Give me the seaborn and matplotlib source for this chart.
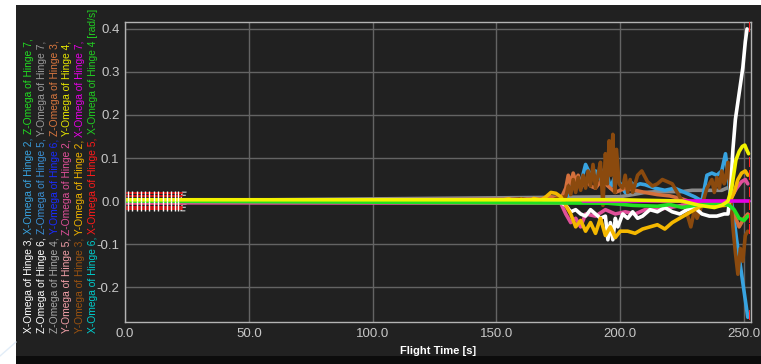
import matplotlib
matplotlib.use("Agg")
import matplotlib.pyplot as plt
import seaborn as sns
from matplotlib.patches import Rectangle
from matplotlib.lines import Line2D

# --- dados (tempo em s, omega em rad/s) ---
t_brown = [0, 150, 160, 170, 175, 178, 179, 180, 181, 182, 183, 184, 185, 186, 187, 188, 189, 190, 191,
           192, 193, 194, 194.8, 195.5, 196.2, 197, 197.8, 198.5, 199.5, 201, 202, 203, 204, 205, 207,
           208.7, 211, 213, 215, 217, 219, 221, 223, 225, 227, 228.5, 230, 231, 233, 235, 237, 238, 239,
           240, 241, 242, 242.5, 243.5, 244.5, 245.5, 246.5, 247.5, 248.5, 249.5, 250.5, 251.5]
v_brown = [0, 0, 0.005, -0.005, 0.008, 0.01, 0.035, 0.015, 0.05, 0.02, 0.055, 0.025, 0.06, 0.03, 0.07,
           0.035, 0.085, 0.03, 0.06, 0.09, -0.01, 0.11, 0.04, 0.14, 0.06, 0.155, 0.02, 0.12, 0.04, 0.03,
           0.06, 0.02, 0.05, 0.02, 0.06, 0.07, 0.045, 0.035, 0.04, 0.05, 0.045, 0.04, 0.02, 0.0, -0.03,
           -0.06, -0.02, -0.04, -0.01, 0.03, 0.05, 0.02, 0.055, 0.03, 0.07, 0.04, 0.05, 0.09, 0.02, -0.06,
           -0.12, -0.17, -0.11, -0.14, -0.08, -0.07]

t_lblue = [0, 178, 180, 182, 184, 186, 188, 190, 192, 194, 196, 198, 200, 202, 204, 206, 208, 210, 214,
           218, 222, 226, 230, 233, 235, 237, 239, 241, 242.5, 243.5, 244.5, 245.5, 247, 248.5, 250, 251.5]
v_lblue = [0, 0.005, 0.03, 0.05, 0.04, 0.085, 0.06, 0.07, 0.05, 0.08, 0.03, 0.06, 0.04, 0.02, 0.045, 0.035,
           0.04, 0.038, 0.03, 0.025, 0.03, 0.02, 0.01, 0.0, 0.06, 0.065, 0.06, 0.07, 0.11, 0.06, 0.01, -0.02,
           -0.09, -0.15, -0.21, -0.27]

t_white = [0, 175, 178, 180, 182, 184, 186, 188, 190, 192, 194, 195, 196, 197, 198, 199, 201, 203, 205,
           207, 209, 212, 215, 218, 221, 224, 227, 230, 233, 236, 239, 242, 243.5, 244.5, 245.5, 246.5,
           247.5, 248.5, 249.5, 250.5, 251.2]
v_white = [0, 0, -0.01, -0.025, -0.02, -0.03, -0.035, -0.02, -0.03, -0.04, -0.035, -0.09, -0.05, -0.09,
           -0.04, -0.06, -0.03, -0.04, -0.025, -0.04, -0.035, -0.02, -0.025, -0.015, -0.025, -0.03, -0.02,
           -0.015, -0.03, -0.035, -0.035, -0.03, -0.03, 0.02, 0.12, 0.19, 0.23, 0.27, 0.31, 0.37, 0.4]

t_gold = [0, 150, 155, 158, 160, 163, 165, 168, 170, 172, 174, 176, 178, 180, 182, 184, 186, 188, 190,
          192, 194, 196, 198, 200, 203, 206, 209, 212, 215, 218, 221, 224, 227, 230, 233, 236, 239, 242,
          244, 246, 247.5, 249, 250.5, 251.5]
v_gold = [0, 0, 0.005, -0.002, 0.004, -0.003, 0.006, 0.002, 0.01, 0.02, 0.018, 0.01, -0.01, -0.03, -0.06,
          -0.045, -0.07, -0.05, -0.075, -0.04, -0.08, -0.06, -0.085, -0.07, -0.07, -0.075, -0.065, -0.06,
          -0.055, -0.065, -0.05, -0.04, -0.03, -0.02, -0.01, -0.005, -0.01, -0.01, -0.005, 0.02, 0.05,
          0.065, 0.07, 0.06]

t_pink = [0, 176, 178, 180, 182, 184, 186, 190, 194, 198, 202, 206, 210, 215, 220, 225, 230, 235, 240,
          243, 245, 247, 249, 250.5, 251.5]
v_pink = [-0.004, -0.005, -0.03, -0.05, -0.04, -0.06, -0.03, -0.035, -0.02, -0.03, -0.025, -0.03, -0.02,
          -0.02, -0.015, -0.01, -0.005, 0.0, -0.005, -0.005, 0.01, 0.03, 0.045, 0.05, 0.04]

t_orange = [0, 168, 172, 176, 178, 179, 180, 181, 182, 183, 184, 186, 188, 190, 192, 194, 198, 202, 206,
            210, 215, 220, 225, 230, 235, 240, 244, 246, 248, 250, 251.5]
v_orange = [0, 0.005, 0.01, 0.005, 0.03, 0.06, 0.04, 0.065, 0.045, 0.06, 0.03, 0.05, 0.035, 0.03, 0.045,
            0.04, 0.02, 0.03, 0.025, 0.02, 0.015, 0.012, 0.005, -0.005, -0.01, -0.01, -0.01, -0.03, -0.06,
            -0.04, -0.03]

t_grey = [0, 200, 205, 210, 215, 220, 225, 229, 236, 241, 243, 245]
v_grey = [0, 0.01, 0.015, 0.02, 0.022, 0.022, 0.022, 0.025, 0.025, 0.025, 0.03, 0.035]

t_green = [0, 195, 205, 215, 220, 225, 230, 235, 240, 244, 246, 248, 250, 251.5]
v_green = [0, -0.005, -0.01, -0.012, -0.008, -0.015, -0.01, -0.005, -0.005, -0.01, -0.02, -0.04, -0.045, -0.035]

t_magenta = [185, 252]
v_magenta = [0.0, 0.0]

t_yellow = [0, 100, 200, 225, 232, 238, 241, 243.5, 245, 246.7, 248, 249.3, 250.3, 251, 251.8]
v_yellow = [0.003, 0.003, 0.003, 0.0, -0.01, -0.015, -0.01, 0.0, 0.03, 0.095, 0.115, 0.127, 0.13, 0.12, 0.11]

# marcadores vermelhos no inicio e no fim
t_red_block = [0, 23]
v_red_rows = [0.019, 0.012, 0.005, -0.007, -0.013, -0.019]
t_white_ticks = [1.1, 2.8, 4.7, 6.3, 8.1, 9.8, 11.7, 13.4, 15.2, 16.8, 18.4, 20.0, 21.6]
v_end_marks = [0.405, 0.09, 0.06, 0.02, -0.01, -0.04, -0.065, -0.265]

xticks = [0, 50, 100, 150, 200, 250]
yticks = [-0.2, -0.1, 0.0, 0.1, 0.2, 0.3, 0.4]

# rotulo do eixo y (linhas coloridas)
label_lines = [
    [("X-Omega of Hinge 3, ", "#ffffff"), ("X-Omega of Hinge 2, ", "#38a3e0"), ("Z-Omega of Hinge 7,", "#22dd22")],
    [("Z-Omega of Hinge 6, ", "#ffffff"), ("Z-Omega of Hinge 5, ", "#3b8fd4"), ("Y-Omega of Hinge 7,", "#9a9a9a")],
    [("Z-Omega of Hinge 4, ", "#a8a8a8"), ("Y-Omega of Hinge 6, ", "#1a2cff"), ("Z-Omega of Hinge 3,", "#d9773f")],
    [("Y-Omega of Hinge 5, ", "#f2a0a8"), ("Z-Omega of Hinge 2, ", "#e0509a"), ("Y-Omega of Hinge 4,", "#e6e600")],
    [("Y-Omega of Hinge 3, ", "#9a5210"), ("Y-Omega of Hinge 2, ", "#f0b400"), ("X-Omega of Hinge 7,", "#e600e6")],
    [("X-Omega of Hinge 6, ", "#00cccc"), ("X-Omega of Hinge 5, ", "#ff1a1a"), ("X-Omega of Hinge 4 [rad/s]", "#22cc22")],
]

panel = "#212121"
sns.set_style("dark", {"axes.facecolor": panel, "figure.facecolor": "white"})
plt.rcParams["font.family"] = ["Liberation Sans Narrow", "Liberation Sans", "DejaVu Sans"]

W, H = 761, 364
fig = plt.figure(figsize=(W / 100, H / 100), dpi=100)
fig.patches.append(Rectangle((16 / W, 0), 1 - 16 / W, (H - 5) / H, transform=fig.transFigure,
                             facecolor=panel, edgecolor="none", zorder=-10))
fig.patches.append(Rectangle((16 / W, 0), 1 - 16 / W, 8 / H, transform=fig.transFigure,
                             facecolor="#0c0c0c", edgecolor="none", zorder=-9))
fig.lines.append(Line2D([0, 16 / W], [8 / H, 22 / H], transform=fig.transFigure, color="#e2edf8", lw=1.0))

ax = fig.add_axes([125 / W, (H - 322) / H, (751 - 125) / W, 300 / H])

lw = 2.6
# bloco vermelho do inicio
for v in v_red_rows:
    sns.lineplot(x=t_red_block, y=[v, v], color="#e01010", lw=1.3, estimator=None, ax=ax)
sns.scatterplot(x=t_white_ticks, y=[0.011] * len(t_white_ticks), marker="|", s=45, color="white",
                linewidth=1.0, ax=ax, zorder=3)
sns.scatterplot(x=t_white_ticks, y=[-0.011] * len(t_white_ticks), marker="|", s=45, color="white",
                linewidth=1.0, ax=ax, zorder=3)
sns.scatterplot(x=[23.3, 23.3], y=[0.013, -0.013], marker="$E$", s=30, color="white", linewidth=0, ax=ax)

series = [
    (t_grey, v_grey, "#8c8c8c"),
    (t_lblue, v_lblue, "#38a3e0"),
    (t_orange, v_orange, "#d4703c"),
    (t_brown, v_brown, "#8b4a0e"),
    (t_pink, v_pink, "#e0509a"),
    (t_white, v_white, "#ffffff"),
    (t_gold, v_gold, "#f5b800"),
    (t_green, v_green, "#22e022"),
    (t_magenta, v_magenta, "#e600e6"),
    (t_yellow, v_yellow, "#f2f200"),
]
for tt, vv, c in series:
    sns.lineplot(x=tt, y=vv, color=c, lw=lw, estimator=None, sort=False, ax=ax)

sns.scatterplot(x=[251.8] * len(v_end_marks), y=v_end_marks, marker="$]$", s=60, color="#ff2020",
                linewidth=0, ax=ax, zorder=5)

ax.set_xlim(0, 252.8)
ax.set_ylim(-0.281, 0.416)
ax.set_xticks(xticks)
ax.set_yticks(yticks)
ax.set_xticklabels([f"{x:.1f}" for x in xticks])
ax.set_yticklabels([f"{y:.1f}" for y in yticks])
ax.tick_params(colors="#c8c8c8", labelsize=9.5, length=0, pad=4)
ax.grid(True, color="#646464", lw=1)
for s in ax.spines.values():
    s.set_visible(True)
    s.set_color("#b4b4b4")
    s.set_linewidth(1)
ax.set_ylabel("")
ax.set_xlabel("Flight Time [s]", color="white", fontsize=8, fontweight="bold")
ax.xaxis.set_label_coords(0.5, -0.08)

# rotulo y multicolorido, girado
fig.canvas.draw()
renderer = fig.canvas.get_renderer()
for i, parts in enumerate(label_lines):
    x = (29 + i * 12.8) / W
    y = (H - 333) / H
    for text, color in parts:
        tx = fig.text(x, y, text, rotation=90, color=color, fontsize=7.4, family=["Liberation Sans"],
                      ha="center", va="bottom")
        bb = tx.get_window_extent(renderer)
        y = bb.y1 / fig.bbox.height

fig.savefig("out.png", dpi=100)
